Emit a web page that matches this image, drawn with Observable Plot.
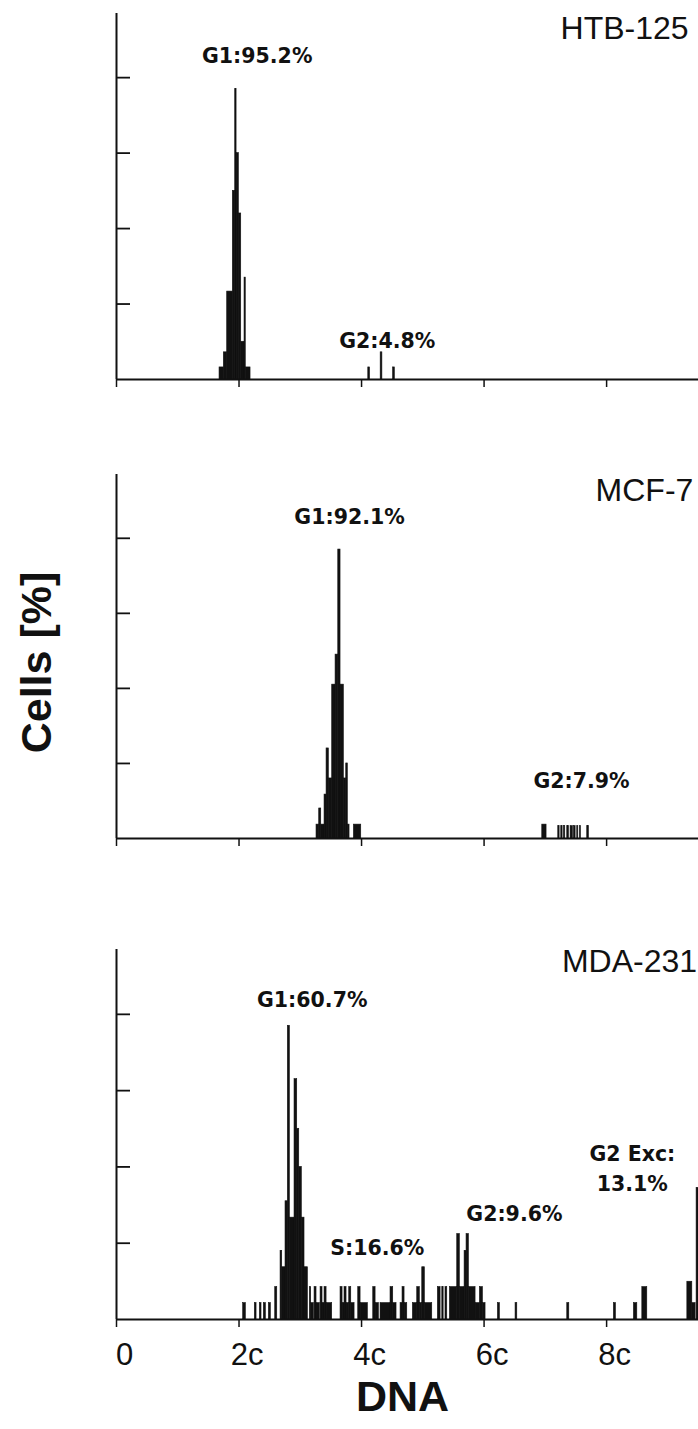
<!DOCTYPE html>
<html>
<head>
<meta charset="utf-8">
<script src="https://cdn.jsdelivr.net/npm/d3@7"></script>
<script src="https://cdn.jsdelivr.net/npm/@observablehq/plot@0.6"></script>
<style>
  html, body { margin: 0; padding: 0; background: #fff; overflow: hidden; }
  #chart { width: 698px; height: 1429px; position: relative; }
  #chart svg { display: block; }
</style>
</head>
<body>
<div id="chart"></div>
<script>
// ---------- data (DNA content in units of c, cells in %) ----------
// each histogram bin: [binStart, binEnd, cells]
const htb125 = [
  [1.682, 1.752, 3.2], [1.752, 1.807, 7.2], [1.807, 1.899, 23.3], [1.899, 1.938, 50],
  [1.938, 1.960, 77], [1.960, 1.997, 60], [1.997, 2.036, 44], [2.036, 2.090, 10],
  [2.090, 2.110, 27], [2.110, 2.188, 3.2],
  [4.110, 4.138, 3.2], [4.312, 4.340, 7.2], [4.515, 4.543, 3.2]
];
const mcf7 = [
  [3.265, 3.309, 3.7], [3.309, 3.342, 8], [3.342, 3.396, 3.7], [3.396, 3.429, 11.7],
  [3.429, 3.466, 24], [3.466, 3.521, 16], [3.521, 3.576, 41], [3.576, 3.620, 49],
  [3.620, 3.657, 77], [3.657, 3.711, 41], [3.711, 3.750, 16], [3.750, 3.776, 20],
  [3.776, 3.804, 3.7], [3.875, 3.995, 3.7],
  [6.950, 7.020, 3.7], [7.211, 7.233, 3.3], [7.260, 7.282, 3.3], [7.303, 7.325, 3.3],
  [7.358, 7.385, 3.3], [7.412, 7.450, 3.3], [7.466, 7.494, 3.3], [7.521, 7.538, 3.3],
  [7.564, 7.581, 3.3], [7.684, 7.711, 3.3]
];
const mda231 = [
  [2.068, 2.111, 4.3], [2.258, 2.286, 4.3], [2.340, 2.367, 4.3], [2.405, 2.438, 4.3],
  [2.487, 2.519, 4.3], [2.591, 2.624, 8.5], [2.678, 2.705, 18], [2.705, 2.759, 13.7],
  [2.759, 2.797, 31], [2.797, 2.830, 77], [2.830, 2.906, 26.7], [2.906, 2.950, 63],
  [2.950, 2.983, 50], [2.983, 3.025, 40], [3.025, 3.069, 26.7], [3.069, 3.124, 13.7],
  [3.156, 3.178, 8.5], [3.178, 3.221, 4.3], [3.233, 3.265, 8.5], [3.265, 3.319, 4.3],
  [3.331, 3.363, 8.5], [3.363, 3.396, 4.3], [3.396, 3.429, 8.5], [3.429, 3.521, 4.3],
  [3.657, 3.690, 8.5], [3.690, 3.722, 4.3], [3.722, 3.755, 8.5], [3.755, 3.799, 4.3],
  [3.799, 3.832, 8.5], [3.832, 3.886, 4.3], [3.946, 3.984, 8.5], [3.984, 4.103, 4.3],
  [4.191, 4.229, 8.5], [4.229, 4.283, 4.3], [4.310, 4.473, 4.3], [4.473, 4.517, 8.5],
  [4.517, 4.571, 4.3], [4.637, 4.669, 4.3], [4.669, 4.702, 8.5], [4.702, 4.746, 4.3],
  [4.838, 4.909, 4.3], [4.909, 4.951, 8.5], [4.951, 4.991, 4.3], [4.991, 5.033, 13.7],
  [5.033, 5.154, 4.3], [5.246, 5.290, 8.5], [5.318, 5.340, 8.5], [5.370, 5.399, 8.5],
  [5.442, 5.562, 8.5], [5.562, 5.604, 22.4], [5.604, 5.682, 8.5], [5.682, 5.714, 18],
  [5.714, 5.752, 22.4], [5.752, 5.861, 8.5], [5.861, 5.932, 4.3], [5.932, 5.981, 8.5],
  [5.981, 6.024, 4.3], [6.226, 6.258, 4.3], [6.514, 6.542, 4.3], [7.358, 7.391, 4.3],
  [8.119, 8.152, 4.3], [8.446, 8.501, 4.3], [8.583, 8.664, 8.5], [9.318, 9.399, 9.9],
  [9.399, 9.453, 4.3], [9.469, 9.500, 34.5]
];
const cellLines = ["HTB-125", "MCF-7", "MDA-231"];
const htbPhases = ["G1:95.2%", "G2:4.8%"];
const mcfPhases = ["G1:92.1%", "G2:7.9%"];
const mdaPhases = ["G1:60.7%", "S:16.6%", "G2:9.6%", "G2 Exc:\n13.1%"];
const xTickValues = [0, 2, 4, 6, 8];
const xTickLabels = ["0", "2c", "4c", "6c", "8c"];
const yTickValues = [20, 40, 60, 80];
const yAxisTitle = "Cells [%]";
const xAxisTitle = "DNA";

// ---------- layout ----------
const INK = "#111";
const SANS = "'Liberation Sans', Arial, Helvetica, sans-serif";
const X_DOMAIN = [0, 9.5];
const Y_DOMAIN = [0, 97];

function panel({data, name, nameX, nameY, phases, phasePos, marginTop, plotHeight, marginBottom, bottom, extra = []}) {
  const annots = phases.map((t, i) => ({text: t, x: phasePos[i][0], y: phasePos[i][1]}));
  const tickLabels = bottom ? [
    Plot.axisX({
      ticks: xTickValues, tickSize: 0, tickPadding: 23, label: null,
      tickFormat: d => xTickLabels[xTickValues.indexOf(d)],
      fontSize: 31, fill: INK, textAnchor: "middle", dx: 8
    })
  ] : [];
  return Plot.plot({
    width: 698,
    height: marginTop + plotHeight + marginBottom,
    marginLeft: 116, marginRight: 0, marginTop, marginBottom,
    x: {domain: X_DOMAIN, axis: null},
    y: {domain: Y_DOMAIN, axis: null},
    style: {fontFamily: SANS, background: "#fff", color: INK, overflow: "visible"},
    marks: [
      Plot.rectY(data, {x1: d => d[0], x2: d => d[1], y: d => d[2], fill: INK, stroke: INK, strokeWidth: 0.6}),
      Plot.ruleY([0], {stroke: INK, strokeWidth: 2}),
      Plot.ruleX([0], {stroke: INK, strokeWidth: 2}),
      Plot.axisY({ticks: yTickValues, tickSize: -14, tickFormat: () => "", label: null, stroke: INK, strokeWidth: 1.8}),
      Plot.axisX({ticks: xTickValues, tickSize: 8, tickFormat: () => "", label: null, stroke: INK, strokeWidth: 1.5}),
      ...tickLabels,
      Plot.text(annots, {
        x: "x", y: "y", text: "text", fontFamily: "'DejaVu Sans', Verdana, sans-serif",
        fontWeight: "bold", fontSize: 20.5, lineAnchor: "bottom", textAnchor: "middle",
        lineHeight: 1.45, fill: INK
      }),
      Plot.text([name], {x: nameX, y: nameY, text: d => d, textAnchor: "start", lineAnchor: "bottom", fontSize: 32, fill: INK}),
      ...extra
    ]
  });
}

const root = document.getElementById("chart");

root.append(panel({
  data: htb125, name: cellLines[0], nameX: 7.249, nameY: 90.3,
  phases: htbPhases, phasePos: [[2.297, 83.9], [4.42, 8.4]],
  marginTop: 13, plotHeight: 366, marginBottom: 20, bottom: false
}));

root.append(panel({
  data: mcf7, name: cellLines[1], nameX: 7.82, nameY: 90,
  phases: mcfPhases, phasePos: [[3.804, 83.9], [7.59, 13.5]],
  marginTop: 75, plotHeight: 364, marginBottom: 20, bottom: false,
  extra: [
    Plot.text([yAxisTitle], {frameAnchor: "left", text: d => d, rotate: -90, dx: -66, dy: 6,
      textAnchor: "middle", lineAnchor: "bottom", fontSize: 43, fontWeight: "bold", fill: INK})
  ]
}));

root.append(panel({
  data: mda231, name: cellLines[2], nameX: 7.27, nameY: 91,
  phases: mdaPhases, phasePos: [[3.195, 81.8], [4.256, 16.8], [6.495, 25.9], [8.42, 33.8]],
  marginTop: 91, plotHeight: 370, marginBottom: 110, bottom: true,
  extra: [
    Plot.text([xAxisTitle], {frameAnchor: "bottom", text: d => d, dy: 91, dx: -5,
      textAnchor: "middle", lineAnchor: "bottom", fontSize: 43, fontWeight: "bold", fill: INK})
  ]
}));
</script>
</body>
</html>
